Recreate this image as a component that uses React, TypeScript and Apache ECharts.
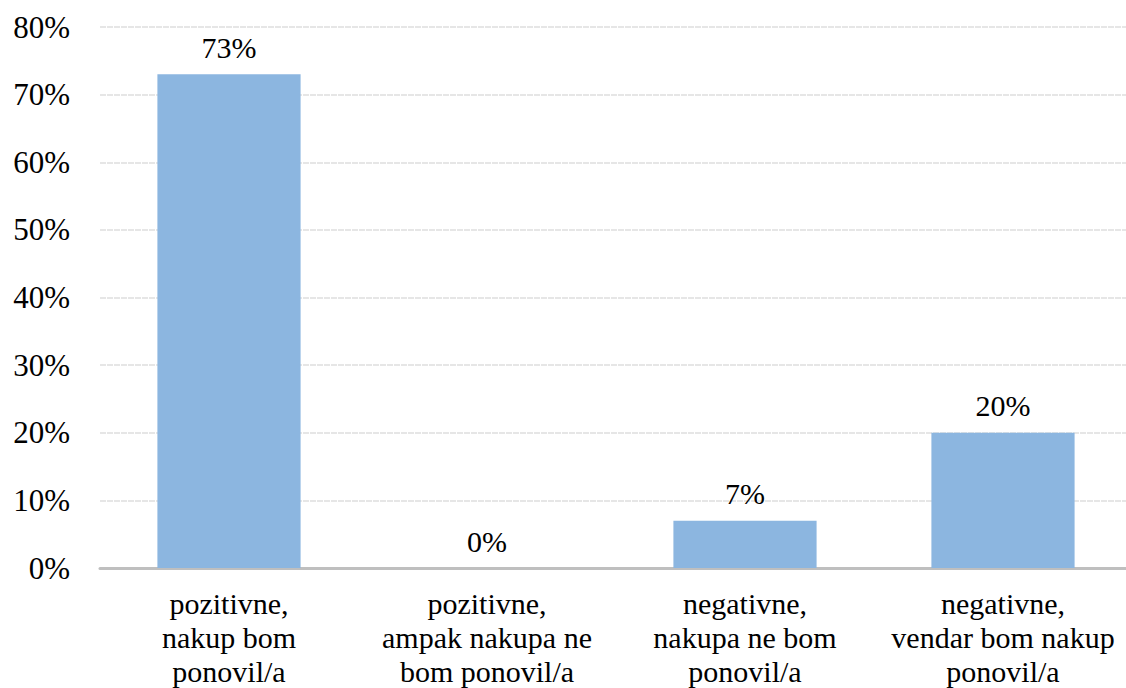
import React, { useEffect, useRef } from "react";
import * as echarts from "echarts";

const categories = [
  "pozitivne,\nnakup bom\nponovil/a",
  "pozitivne,\nampak nakupa ne\nbom ponovil/a",
  "negativne,\nnakupa ne bom\nponovil/a",
  "negativne,\nvendar bom nakup\nponovil/a",
];
const shares = [73, 0, 7, 20];
const yMin = 0;
const yMax = 80;
const yStep = 10;

const FONT = "Liberation Serif";

export default function App() {
  const ref = useRef<HTMLDivElement>(null);

  useEffect(() => {
    if (!ref.current) return;
    const chart = echarts.init(ref.current, undefined, { renderer: "svg" });
    chart.setOption({
      animation: false,
      textStyle: { fontFamily: FONT },
      grid: { left: 100, right: 0, top: 27, bottom: 117, containLabel: false },
      xAxis: {
        type: "category",
        data: categories,
        axisLine: { lineStyle: { color: "#bfbfbf", width: 3 } },
        axisTick: { show: false },
        axisLabel: {
          interval: 0,
          margin: 18,
          color: "#000",
          fontFamily: FONT,
          fontSize: 30,
          lineHeight: 34,
        },
      },
      yAxis: {
        type: "value",
        min: yMin,
        max: yMax,
        interval: yStep,
        axisLine: { show: false },
        axisTick: { show: false },
        splitLine: { lineStyle: { color: "#e6e6e6", width: 2, type: [6, 1] } },
        axisLabel: {
          margin: 30,
          color: "#000",
          fontFamily: FONT,
          fontSize: 31,
          formatter: (v: number) => `${v}%`,
        },
      },
      series: [
        {
          type: "bar",
          data: shares,
          barWidth: "55.5%",
          itemStyle: { color: "#8cb6e0" },
          label: {
            show: true,
            position: "top",
            distance: 12,
            color: "#000",
            fontFamily: FONT,
            fontSize: 30,
            formatter: (p: any) => `${p.value}%`,
          },
        },
      ],
    });
    return () => chart.dispose();
  }, []);

  return (
    <div
      style={{ position: "fixed", left: 0, top: 0, width: 1126, height: 688, overflow: "hidden", background: "#fff" }}
    >
      <div ref={ref} style={{ width: 1132, height: 688 }} />
    </div>
  );
}
